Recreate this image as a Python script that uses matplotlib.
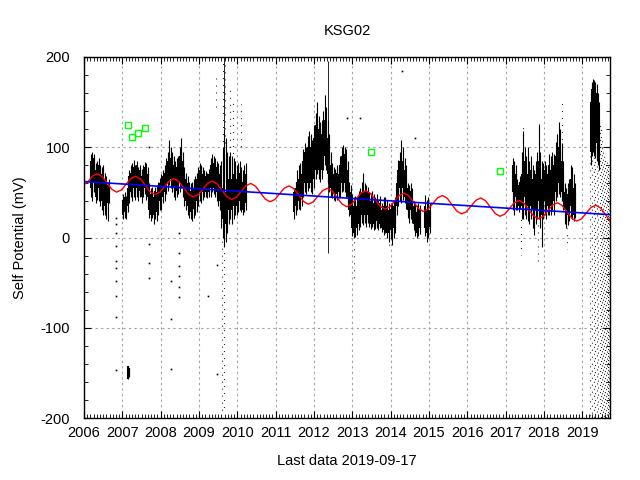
import matplotlib
matplotlib.use("Agg")
import matplotlib.pyplot as plt
from matplotlib.ticker import MultipleLocator

plt.rcParams['font.family'] = ['Liberation Sans', 'DejaVu Sans']
plt.rcParams['axes.unicode_minus'] = False

# dense daily data, summarised per bin: time, core range, full range (mV)
bin_t = [2006.18, 2006.22, 2006.26, 2006.30, 2006.34, 2006.38, 2006.42, 2006.46, 2006.50, 2006.54, 2006.58, 2006.62, 2006.65,
         2007.02, 2007.06, 2007.10, 2007.14, 2007.18, 2007.22, 2007.26, 2007.30, 2007.34, 2007.38, 2007.42, 2007.46, 2007.50,
         2007.54, 2007.58, 2007.62, 2007.66, 2007.70, 2007.74, 2007.78, 2007.82, 2007.86, 2007.90, 2007.94, 2007.98,
         2008.02, 2008.06, 2008.10, 2008.14, 2008.18, 2008.22, 2008.26, 2008.30, 2008.34, 2008.38, 2008.42, 2008.46, 2008.50,
         2008.54, 2008.58, 2008.62, 2008.66, 2008.70, 2008.74, 2008.78, 2008.82, 2008.86, 2008.90, 2008.94, 2008.98,
         2009.02, 2009.06, 2009.10, 2009.14, 2009.18, 2009.22, 2009.26, 2009.30, 2009.34, 2009.38, 2009.42, 2009.46, 2009.50,
         2009.54, 2009.58, 2009.62, 2009.66, 2009.70, 2009.74, 2009.78, 2009.82, 2009.86, 2009.90, 2009.94, 2009.98,
         2010.02, 2010.06, 2010.10, 2010.14, 2010.18, 2010.22,
         2011.48, 2011.52, 2011.56, 2011.60, 2011.64, 2011.68, 2011.72, 2011.76, 2011.80, 2011.84, 2011.88, 2011.92, 2011.96,
         2012.00, 2012.04, 2012.08, 2012.12, 2012.16, 2012.20, 2012.24, 2012.28, 2012.32, 2012.36, 2012.40, 2012.44, 2012.48,
         2012.52, 2012.56, 2012.60, 2012.64, 2012.68, 2012.72, 2012.76, 2012.80, 2012.84, 2012.88, 2012.92, 2012.96,
         2013.00, 2013.04, 2013.08, 2013.12, 2013.16, 2013.20, 2013.24, 2013.28, 2013.32, 2013.36, 2013.40, 2013.44, 2013.48,
         2013.52, 2013.56, 2013.60, 2013.64, 2013.68, 2013.72, 2013.76, 2013.82, 2013.86, 2013.90, 2013.96,
         2014.00, 2014.04, 2014.08, 2014.12, 2014.16, 2014.20, 2014.24, 2014.28, 2014.32, 2014.36, 2014.40, 2014.44, 2014.48,
         2014.52, 2014.56, 2014.60, 2014.64, 2014.68, 2014.72, 2014.76, 2014.90, 2014.94, 2014.98, 2015.02,
         2017.18, 2017.22, 2017.26, 2017.30, 2017.34, 2017.38, 2017.42, 2017.46, 2017.50, 2017.54, 2017.58, 2017.62, 2017.66,
         2017.70, 2017.74, 2017.78, 2017.82, 2017.86, 2017.90, 2017.94, 2017.98,
         2018.02, 2018.06, 2018.10, 2018.14, 2018.18, 2018.22, 2018.26, 2018.30, 2018.34, 2018.38, 2018.42, 2018.46, 2018.50,
         2018.54, 2018.58, 2018.62, 2018.66, 2018.70, 2018.74, 2018.78, 2018.82,
         2019.22, 2019.25, 2019.28, 2019.31, 2019.34, 2019.37, 2019.40, 2019.43,
         2007.15, 2007.17]
core_lo = [55, 50, 60, 45, 50, 55, 48, 40, 45, 35, 30, 38, 45,
           25, 28, 25, 35, 45, 50, 48, 55, 50, 55, 48, 52, 45,
           50, 55, 50, 45, 30, 25, 30, 25, 30, 28, 35, 40,
           40, 45, 50, 55, 62, 68, 65, 60, 55, 50, 52, 55, 60,
           65, 55, 45, 40, 35, 30, 28, 30, 32, 35, 40, 45,
           50, 45, 50, 52, 50, 48, 50, 55, 60, 55, 55, 50, 45,
           40, 30, 20, 10, 15, 20, 30, 35, 30, 35, 40, 35,
           38, 40, 35, 30, 35, 38,
           28, 35, 38, 40, 38, 45, 55, 60, 55, 60, 65, 60, 55,
           65, 75, 85, 75, 70, 75, 85, 90, 85, 70, 60, 55, 50,
           48, 46, 48, 50, 55, 60, 65, 60, 55, 45, 30, 25,
           10, 5, 8, 10, 15, 20, 25, 20, 25, 20, 25, 20, 15,
           20, 15, 12, 18, 12, 15, 10, 8, 10, 5, 5,
           8, 5, 10, 15, 35, 45, 55, 50, 55, 45, 40, 30, 25,
           30, 25, 15, 10, 5, 8, 10, 10, 5, 8, 12,
           50, 40, 45, 38, 35, 40, 35, 40, 45, 40, 35, 30, 35,
           30, 25, 30, 35, 40, 30, 25, 35,
           40, 30, 35, 40, 35, 45, 40, 50, 55, 60, 55, 50, 40,
           30, 20, 25, 30, 35, 30, 25, 30,
           95, 110, 120, 115, 110, 105, 95, 90,
           -157, -155]
core_hi = [85, 80, 88, 75, 78, 80, 72, 70, 75, 65, 60, 58, 60,
           42, 45, 40, 55, 68, 72, 75, 78, 72, 80, 70, 75, 68,
           72, 78, 75, 70, 52, 48, 50, 45, 52, 50, 55, 60,
           62, 68, 72, 78, 85, 92, 88, 85, 80, 75, 78, 80, 90,
           95, 85, 70, 65, 60, 55, 52, 55, 55, 60, 65, 70,
           75, 72, 70, 70, 68, 66, 70, 80, 85, 82, 80, 78, 75,
           70, 60, 55, 45, 50, 55, 65, 70, 65, 70, 72, 65,
           70, 72, 65, 62, 68, 70,
           50, 55, 62, 65, 68, 70, 85, 95, 90, 100, 105, 100, 95,
           110, 125, 130, 120, 110, 115, 125, 130, 125, 110, 95, 80, 72,
           70, 68, 72, 70, 80, 90, 95, 92, 88, 75, 55, 50,
           40, 35, 38, 35, 45, 48, 50, 45, 52, 48, 50, 42, 40,
           45, 38, 35, 40, 35, 38, 30, 35, 40, 35, 30,
           32, 30, 35, 40, 60, 75, 85, 80, 85, 75, 65, 55, 50,
           52, 45, 35, 30, 28, 30, 32, 35, 30, 35, 30,
           80, 75, 70, 60, 58, 62, 70, 80, 85, 75, 70, 65, 75,
           65, 60, 70, 80, 85, 75, 65, 70,
           75, 65, 70, 80, 75, 85, 80, 90, 95, 100, 95, 85, 70,
           50, 45, 48, 55, 65, 60, 55, 50,
           150, 165, 170, 168, 165, 160, 145, 130,
           -142, -145]
ext_lo = [45, 40, 50, 38, 42, 40, 35, 30, 25, 25, 20, 18, 38,
          20, 22, 20, 28, 38, 45, 40, 45, 42, 45, 40, 45, 38,
          45, 48, 42, 40, 22, 18, 22, 15, 20, 18, 25, 30,
          30, 38, 40, 48, 52, 58, 55, 50, 45, 42, 45, 48, 50,
          55, 45, 35, 30, 25, 22, 20, 18, 22, 25, 28, 35,
          40, 38, 42, 45, 45, 44, 45, 45, 50, 48, 45, 40, 35,
          30, 10, 0, -10, -5, 5, 15, 20, 15, 20, 25, 25,
          28, 30, 28, 25, 28, 30,
          20, 25, 30, 32, 30, 35, 45, 50, 48, 52, 55, 50, 48,
          55, 65, 70, 65, 62, 65, 75, 80, 75, 60, 50, 45, 44,
          42, 40, 42, 44, 45, 50, 52, 50, 45, 35, 24, 20,
          2, 0, 1, 3, 8, 12, 16, 14, 16, 12, 16, 12, 9,
          12, 8, 9, 10, 8, 10, 6, 3, 5, 0, -5,
          -2, -8, 0, 5, 25, 35, 40, 38, 42, 38, 32, 22, 16,
          20, 16, 8, 2, 0, 2, 4, 2, -5, 0, 5,
          30, 25, 30, 30, 28, 32, 20, 20, 25, 20, 18, 15, 20,
          10, 3, 15, 20, 20, 10, -10, 20,
          25, 20, 25, 25, 25, 30, 25, 40, 45, 48, 45, 40, 30,
          15, 10, 14, 18, 22, 20, 18, 22,
          80, 90, 95, 90, 88, 85, 80, 75,
          -157, -155]
ext_hi = [92, 95, 92, 82, 85, 88, 80, 78, 80, 72, 68, 62, 65,
          48, 50, 46, 62, 75, 80, 82, 86, 80, 85, 78, 80, 76,
          80, 84, 82, 78, 60, 55, 56, 52, 56, 58, 62, 66,
          70, 75, 80, 88, 95, 108, 100, 95, 90, 85, 88, 90, 100,
          110, 95, 78, 72, 68, 62, 60, 62, 65, 68, 72, 78,
          82, 80, 78, 75, 74, 72, 76, 88, 92, 90, 88, 85, 82,
          80, 85, 100, 120, 110, 95, 90, 95, 90, 88, 85, 80,
          82, 85, 78, 75, 80, 82,
          55, 62, 75, 80, 82, 85, 98, 105, 100, 112, 118, 115, 108,
          125, 138, 150, 135, 128, 130, 140, 158, 145, 130, 115, 95, 82,
          78, 76, 80, 78, 90, 100, 102, 100, 98, 85, 62, 58,
          48, 45, 46, 45, 52, 55, 62, 72, 60, 58, 56, 50, 49,
          52, 48, 45, 48, 42, 46, 38, 45, 45, 42, 38,
          38, 38, 40, 45, 70, 86, 95, 108, 100, 88, 80, 60, 58,
          60, 55, 40, 38, 36, 38, 36, 47, 42, 45, 38,
          88, 85, 80, 65, 62, 68, 95, 118, 100, 90, 100, 85, 90,
          80, 75, 85, 95, 126, 95, 85, 82,
          85, 80, 78, 92, 90, 95, 92, 106, 115, 128, 120, 105, 85,
          60, 55, 60, 65, 80, 78, 70, 60,
          160, 172, 176, 175, 172, 170, 160, 150,
          -142, -145]

# sparse, scattered columns of points (dotted)
sparse_t = [2009.45, 2009.60, 2009.63, 2009.66, 2009.69, 2009.80, 2009.88, 2010.10, 2013.04, 2013.96,
            2017.40, 2017.46, 2017.84, 2017.87, 2018.46, 2018.60,
            2019.21, 2019.25, 2019.29, 2019.33, 2019.37, 2019.41, 2019.45, 2019.48,
            2019.51, 2019.54, 2019.57, 2019.60, 2019.62, 2019.64, 2019.66, 2019.68, 2019.70, 2019.715]
sparse_lo = [145, -195, 85, -190, 100, 92, 90, 95, -46, -13,
             -19, 95, -32, 95, 105, -13,
             -200, -200, -200, -200, -200, -200, -200, -200,
             -200, -200, -200, -200, -200, -200, -200, -200, -200, -200]
sparse_hi = [180, 0, 200, 5, 198, 165, 150, 148, 0, 5,
             25, 123, 20, 126, 154, 10,
             95, 95, 95, 95, 95, 90, 130, 120,
             110, 100, 95, 90, 85, 85, 80, 75, 70, 60]

# thin continuous spikes
spike_t = [2012.36, 2009.645]
spike_lo = [-17, 120]
spike_hi = [196, 200]

# isolated points
pt_t = [2006.83, 2006.83, 2006.83, 2006.83, 2006.83, 2006.83, 2006.83, 2006.84, 2006.84, 2006.84,
        2007.69, 2007.69, 2007.69, 2007.70, 2008.28, 2008.28, 2008.28,
        2008.48, 2008.48, 2008.48, 2008.48, 2008.48, 2008.48, 2009.24, 2009.47, 2009.47,
        2014.29, 2014.63, 2013.20, 2012.85]
pt_v = [-9.6, -26, -33.5, -48, -64.7, -88.6, -147, 5, 15, 22,
        -7.7, -28, -44.5, 100.7, -48, -90, -146,
        5, -17, -32, -43, -55, -66, -65, -30, -151,
        185, 110, 132, 132]

# annual (red) fitted curve
red_t = [2006.0, 2006.1, 2006.225, 2006.35, 2006.475, 2006.6, 2006.725, 2006.85, 2006.975,
         2007.1, 2007.225, 2007.35, 2007.475, 2007.6, 2007.725, 2007.85, 2007.975,
         2008.1, 2008.225, 2008.35, 2008.475, 2008.6, 2008.725, 2008.85, 2008.975,
         2009.1, 2009.225, 2009.35, 2009.475, 2009.6, 2009.725, 2009.85, 2009.975,
         2010.1, 2010.225, 2010.35, 2010.475, 2010.6, 2010.725, 2010.85, 2010.975,
         2011.1, 2011.225, 2011.35, 2011.475, 2011.6, 2011.725, 2011.85, 2011.975,
         2012.1, 2012.225, 2012.35, 2012.475, 2012.6, 2012.725, 2012.85, 2012.975,
         2013.1, 2013.225, 2013.35, 2013.475, 2013.6, 2013.725, 2013.85, 2013.975,
         2014.1, 2014.225, 2014.35, 2014.475, 2014.6, 2014.725, 2014.85, 2014.975,
         2015.1, 2015.225, 2015.35, 2015.475, 2015.6, 2015.725, 2015.85, 2015.975,
         2016.1, 2016.225, 2016.35, 2016.475, 2016.6, 2016.725, 2016.85, 2016.975,
         2017.1, 2017.225, 2017.35, 2017.475, 2017.6, 2017.725, 2017.85, 2017.975,
         2018.1, 2018.225, 2018.35, 2018.475, 2018.6, 2018.725, 2018.85, 2018.975,
         2019.1, 2019.225, 2019.35, 2019.475, 2019.6, 2019.72]
red_v = [58.5, 61.8, 68.1, 70.6, 67.5, 60.4, 53.4, 50.3, 52.7,
         59.1, 65.4, 67.9, 64.8, 57.7, 50.7, 47.6, 50.0,
         56.4, 62.7, 65.2, 62.1, 55.0, 48.0, 44.9, 47.3,
         53.7, 60.0, 62.5, 59.4, 52.3, 45.3, 42.2, 44.6,
         51.1, 57.4, 59.9, 56.8, 49.7, 42.7, 39.6, 42.0,
         48.4, 54.7, 57.2, 54.1, 47.0, 40.0, 36.9, 39.3,
         45.7, 52.0, 54.5, 51.4, 44.3, 37.3, 34.2, 36.6,
         43.0, 49.3, 51.8, 48.7, 41.6, 34.6, 31.5, 33.9,
         40.4, 46.7, 49.2, 46.1, 39.0, 32.0, 28.9, 31.3,
         37.7, 44.0, 46.5, 43.4, 36.3, 29.3, 26.2, 28.6,
         35.0, 41.3, 43.8, 40.7, 33.6, 26.6, 23.5, 25.9,
         32.3, 38.6, 41.1, 38.0, 30.9, 23.9, 20.8, 23.2,
         29.7, 36.0, 38.5, 35.4, 28.3, 21.3, 18.2, 20.6,
         27.0, 33.3, 35.8, 32.7, 25.6, 18.0]

# linear trend (blue)
trend_t = [2006.0, 2019.72]
trend_v = [62.0, 25.3]

# green squares
sq_t = [2007.16, 2007.26, 2007.42, 2007.60, 2013.49, 2016.86]
sq_v = [124.3, 111.0, 115.4, 121.0, 94.5, 73.5]

years = list(range(2006, 2020))

fig = plt.figure(figsize=(6.4, 4.8), dpi=100)
ax = fig.add_axes([84 / 640, 1 - 418 / 480, 526 / 640, 361 / 480])

ax.vlines(bin_t, ext_lo, ext_hi, colors='black', linewidth=0.8)
ax.vlines(bin_t, core_lo, core_hi, colors='black', linewidth=1.5)
for i, (t, lo, hi) in enumerate(zip(sparse_t, sparse_lo, sparse_hi)):
    ax.plot([t, t], [lo, hi], color='black', linewidth=0.8,
            linestyle=((i * 3.7) % 6.1, (0.8, 5.5)))
ax.vlines(spike_t, spike_lo, spike_hi, colors='black', linewidth=0.6)
ax.plot(pt_t, pt_v, 's', color='black', markersize=1.2, markeredgewidth=0)

ax.plot(red_t, red_v, color='#ff0000', linewidth=1.0)
ax.plot(trend_t, trend_v, color='#0000ff', linewidth=1.2)
ax.plot(sq_t, sq_v, 's', markerfacecolor='none', markeredgecolor='#00ff00',
        markersize=4.5, markeredgewidth=1.0, linestyle='none')

ax.set_xlim(2006, 2019.72)
ax.set_ylim(-200, 200)
ax.set_xticks(years)
ax.set_xticklabels([str(y) for y in years])
ax.xaxis.set_minor_locator(MultipleLocator(1 / 12))
ax.yaxis.set_major_locator(MultipleLocator(100))
ax.yaxis.set_minor_locator(MultipleLocator(20))
ax.tick_params(which='both', direction='in', top=True, right=True, labelsize=10.5)
ax.tick_params(which='major', length=5, width=0.8)
ax.tick_params(which='minor', length=3, width=0.6)
ax.tick_params(axis='x', pad=6)
ax.tick_params(axis='y', pad=10)
ax.grid(True, which='major', color='#a0a0a0', linestyle=(0, (2, 3)), linewidth=0.8)
for s in ax.spines.values():
    s.set_linewidth(1.0)

ax.set_title('KSG02', fontsize=10.5, pad=16)
ax.set_xlabel('Last data 2019-09-17', fontsize=10.5, labelpad=10)
ax.set_ylabel('Self Potential (mV)', fontsize=10.5, labelpad=10)

fig.savefig('out.png', dpi=100)
